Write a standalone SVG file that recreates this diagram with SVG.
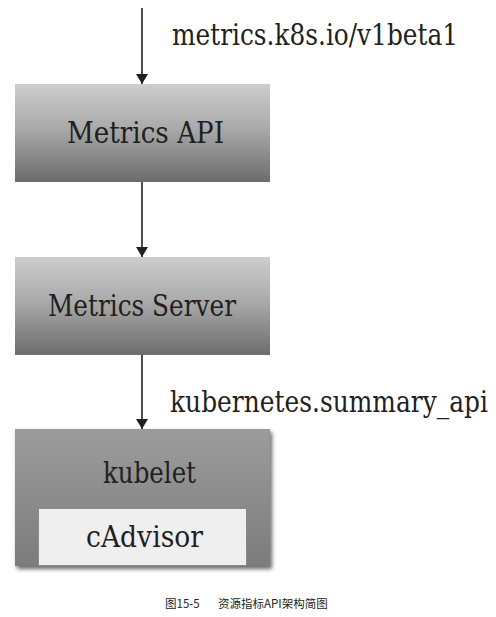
<svg xmlns="http://www.w3.org/2000/svg" width="496" height="617" viewBox="0 0 496 617">
<style>
.t{font-family:"DejaVu Serif",serif;font-size:22px;fill:#231f20}
.cap{font-family:"Noto Sans CJK SC",sans-serif;font-size:11.5px;fill:#231f20}
</style>
<defs>
<linearGradient id="g1" x1="0" y1="0" x2="0" y2="1">
<stop offset="0" stop-color="#cdcdcd"/>
<stop offset="0.45" stop-color="#aaaaaa"/>
<stop offset="1" stop-color="#6c6c6c"/>
</linearGradient>
<linearGradient id="g2" x1="0" y1="0" x2="0" y2="1">
<stop offset="0" stop-color="#9c9c9c"/>
<stop offset="1" stop-color="#7c7c7c"/>
</linearGradient>
<filter id="sh" x="-10%" y="-10%" width="125%" height="125%">
<feGaussianBlur in="SourceAlpha" stdDeviation="2"/>
<feOffset dx="2" dy="3"/>
<feComponentTransfer><feFuncA type="linear" slope="0.6"/></feComponentTransfer>
<feMerge><feMergeNode/><feMergeNode in="SourceGraphic"/></feMerge>
</filter>
<marker id="ah" viewBox="0 0 10 12" refX="10" refY="6" markerWidth="10" markerHeight="12" markerUnits="userSpaceOnUse" orient="auto">
<path d="M0,0 L10,6 L0,12 Z" fill="#231f20"/>
</marker>
</defs>
<g id="connectors" stroke="#231f20" stroke-width="1.6" fill="none">
<line x1="142" y1="8" x2="142" y2="84" marker-end="url(#ah)"/>
<line x1="142" y1="182" x2="142" y2="257" marker-end="url(#ah)"/>
<line x1="142" y1="355" x2="142" y2="429" marker-end="url(#ah)"/>
</g>
<g id="labels">
<text class="t" transform="translate(172,45) scale(1,1.32)" textLength="286" lengthAdjust="spacingAndGlyphs">metrics.k8s.io/v1beta1</text>
<text class="t" transform="translate(170,412) scale(1,1.32)" textLength="318" lengthAdjust="spacingAndGlyphs">kubernetes.summary_api</text>
</g>
<g id="metrics-api">
<rect x="15" y="84" width="255" height="98" fill="url(#g1)"/>
<text class="t" transform="translate(67,143) scale(1,1.32)" textLength="157" lengthAdjust="spacingAndGlyphs">Metrics API</text>
</g>
<g id="metrics-server">
<rect x="15" y="257" width="255" height="98" fill="url(#g1)"/>
<text class="t" transform="translate(48,316) scale(1,1.32)" textLength="188" lengthAdjust="spacingAndGlyphs">Metrics Server</text>
</g>
<g id="kubelet">
<rect x="15" y="429" width="255" height="137" fill="url(#g2)" filter="url(#sh)"/>
<text class="t" transform="translate(103,483) scale(1,1.32)" textLength="93" lengthAdjust="spacingAndGlyphs">kubelet</text>
</g>
<g id="cadvisor">
<rect x="38.5" y="508.5" width="208" height="57" fill="#efefef" stroke="#8a8a8a" stroke-width="1"/>
<text class="t" transform="translate(86,547) scale(1,1.32)" textLength="117" lengthAdjust="spacingAndGlyphs">cAdvisor</text>
</g>
<g id="caption">
<text class="cap" x="165" y="608">图15-5</text>
<text class="cap" x="218" y="608">资源指标API架构简图</text>
</g>
</svg>
